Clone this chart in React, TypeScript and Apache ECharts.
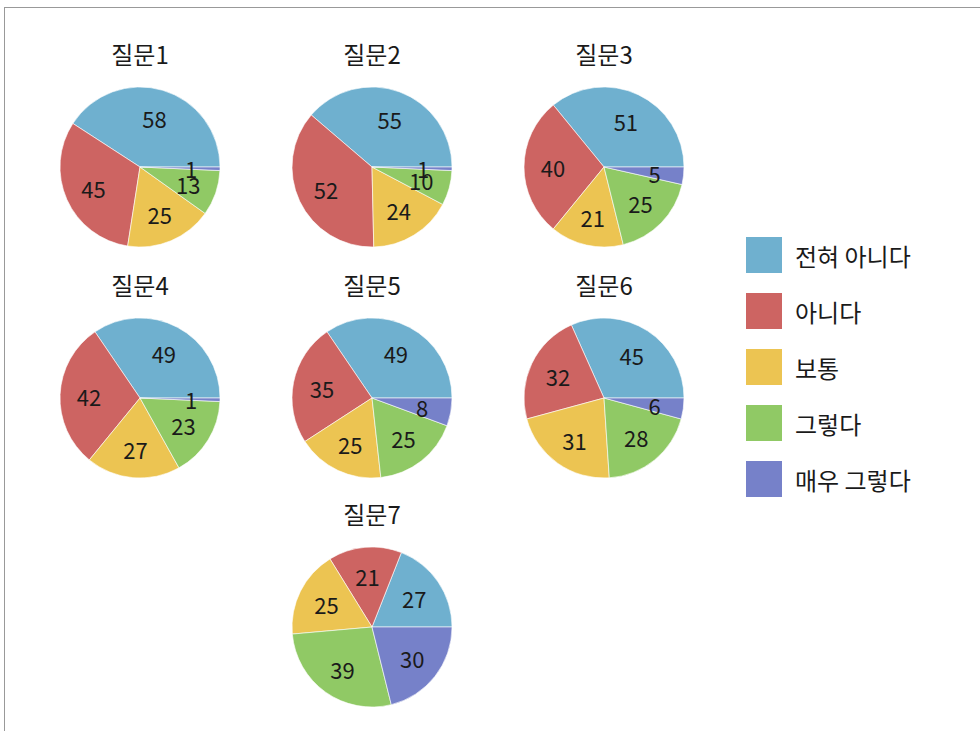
import React, { useEffect, useRef } from "react";
import * as echarts from "echarts";

const categories = ["전혀 아니다", "아니다", "보통", "그렇다", "매우 그렇다"];
const questions = ["질문1", "질문2", "질문3", "질문4", "질문5", "질문6", "질문7"];
const q1 = [58, 45, 25, 13, 1];
const q2 = [55, 52, 24, 10, 1];
const q3 = [51, 40, 21, 25, 5];
const q4 = [49, 42, 27, 23, 1];
const q5 = [49, 35, 25, 25, 8];
const q6 = [45, 32, 31, 28, 6];
const q7 = [27, 21, 25, 39, 30];
const values = [q1, q2, q3, q4, q5, q6, q7];
const colors = ["#6fb0cf", "#cd6462", "#ecc452", "#90c965", "#7681c9"];

const centers: [number, number][] = [
  [140, 167],
  [372, 167],
  [604, 167],
  [140, 398],
  [372, 398],
  [604, 398],
  [372, 627],
];
const R = 80;
const FONT = "'Noto Sans CJK KR', 'Noto Sans', sans-serif";

export default function App() {
  const ref = useRef<HTMLDivElement>(null);
  useEffect(() => {
    const chart = echarts.init(ref.current!, null, { renderer: "svg" });
    const series: any[] = [];
    values.forEach((vals, i) => {
      series.push({
        type: "pie",
        name: questions[i],
        center: centers[i],
        radius: [0, R],
        startAngle: 0,
        clockwise: false,
        silent: true,
        label: { show: false },
        labelLine: { show: false },
        itemStyle: { borderColor: "#ffffff", borderWidth: 0.6 },
        data: vals.map((v, j) => ({ name: categories[j], value: v, itemStyle: { color: colors[j] } })),
      });
    });
    // label rings: one series per category so small-slice labels are never hidden as overlaps
    values.forEach((vals, i) => {
      categories.forEach((cat, k) => {
        series.push({
          type: "pie",
          name: questions[i] + "_label_" + k,
          center: centers[i],
          radius: [16, R],
          startAngle: 0,
          clockwise: false,
          silent: true,
          labelLayout: { hideOverlap: false },
          label: {
            show: true,
            position: "inside",
            formatter: "{c}",
            fontSize: 22,
            color: "#1a1a1a",
            fontFamily: FONT,
          },
          labelLine: { show: false },
          itemStyle: { color: "rgba(0,0,0,0)", borderWidth: 0 },
          data: vals.map((v, j) => ({
            name: categories[j],
            value: v,
            label: { show: j === k },
          })),
        });
      });
    });
    chart.setOption({
      animation: false,
      color: colors,
      title: questions.map((q, i) => ({
        text: q,
        left: centers[i][0],
        top: centers[i][1] - 126,
        padding: 0,
        textAlign: "center",
        textStyle: { fontSize: 24, fontWeight: "normal", color: "#1a1a1a", fontFamily: FONT },
      })),
      legend: {
        orient: "vertical",
        left: 744,
        top: 235,
        padding: 0,
        itemWidth: 38,
        itemHeight: 38,
        itemGap: 16,
        icon: "rect",
        data: categories,
        selectedMode: false,
        textStyle: { fontSize: 24, color: "#1a1a1a", fontFamily: FONT, padding: [0, 0, 0, 7] },
      },
      series,
    });
    return () => chart.dispose();
  }, []);
  return (
    <>
      <div
        style={{
          position: "absolute",
          left: 4,
          top: 7,
          width: 1100,
          height: 900,
          border: "1.5px solid #999",
          boxSizing: "border-box",
        }}
      />
      <div
        ref={ref}
        style={{ position: "absolute", left: 0, top: 0, width: 980, height: 731 }}
      />
    </>
  );
}
